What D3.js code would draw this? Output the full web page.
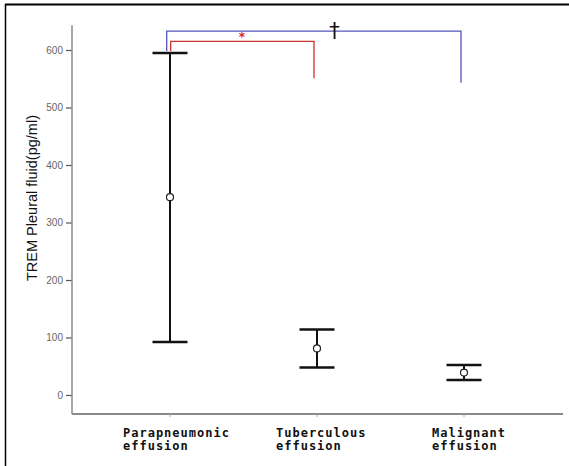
<!DOCTYPE html>
<html>
<head>
<meta charset="utf-8">
<script src="https://cdn.jsdelivr.net/npm/d3@7"></script>
<style>
  body { margin: 0; background: #fff; }
  svg { display: block; }
</style>
</head>
<body>
<div id="chart"></div>
<script>
// categories and values (mean with error range)
const categories = ["Parapneumonic\neffusion", "Tuberculous\neffusion", "Malignant\neffusion"];
const means = [344, 81, 39];
const lows = [92, 48, 26];
const highs = [595, 114, 52];
const yTicks = [0, 100, 200, 300, 400, 500, 600];

// significance brackets: from / to category index, top value, drop value, mark
const brackets = [
  { from: 0, to: 1, top: 615, drop: 551, color: "#cc3333", mark: "*" },
  { from: 0, to: 2, top: 633, drop: 543, color: "#5555bb", mark: "\u2020" }
];

const svg = d3.select("#chart")
  .append("svg")
  .attr("width", 569)
  .attr("height", 466);

// frame
svg.append("line").attr("x1", 5).attr("x2", 569).attr("y1", 4.5).attr("y2", 4.5)
  .attr("stroke", "#000").attr("stroke-width", 2);
svg.append("line").attr("x1", 5.5).attr("x2", 5.5).attr("y1", 4).attr("y2", 466)
  .attr("stroke", "#000").attr("stroke-width", 1.5);

const xScale = d3.scalePoint()
  .domain(categories)
  .range([170, 464]);

const yScale = d3.scaleLinear()
  .domain([0, 600])
  .range([395, 50]);

const axisColor = "#8a8a8a";

// y axis
const yAxis = svg.append("g")
  .attr("transform", "translate(72,0)")
  .call(d3.axisLeft(yScale).tickValues(yTicks).tickSize(6).tickSizeOuter(0));
yAxis.select(".domain").remove();
yAxis.selectAll(".tick line").attr("stroke", "#555").attr("stroke-width", 1.2);
yAxis.selectAll(".tick text")
  .attr("x", -9)
  .attr("fill", "#666")
  .style("font-family", "Liberation Sans, Arial, sans-serif")
  .style("font-size", "10px");

svg.append("line")
  .attr("x1", 72).attr("x2", 72)
  .attr("y1", yScale(-33)).attr("y2", yScale(643))
  .attr("stroke", axisColor).attr("stroke-width", 1.5);

// x axis
svg.append("line")
  .attr("x1", 72).attr("x2", 563)
  .attr("y1", yScale(-33)).attr("y2", yScale(-33))
  .attr("stroke", axisColor).attr("stroke-width", 2);

svg.append("g")
  .selectAll("line")
  .data(categories)
  .join("line")
  .attr("x1", d => xScale(d)).attr("x2", d => xScale(d))
  .attr("y1", yScale(-33)).attr("y2", yScale(-33) + 3)
  .attr("stroke", "#aaa").attr("stroke-width", 1);

const xLabels = svg.append("g")
  .selectAll("text")
  .data(categories)
  .join("text")
  .attr("x", d => xScale(d) - 47)
  .attr("y", 437)
  .style("font-family", "DejaVu Sans Mono, monospace")
  .style("font-weight", "bold")
  .style("font-size", "12px")
  .style("letter-spacing", "1px")
  .attr("fill", "#111");
xLabels.each(function(d) {
  const lines = d.split("\n");
  const t = d3.select(this);
  lines.forEach((ln, i) => {
    t.append("tspan").attr("x", xScale(d) - 47 + (d.startsWith("Tub") ? 6 : d.startsWith("Mal") ? 15 : 0))
      .attr("dy", i === 0 ? 0 : 13).text(ln);
  });
});

// y axis title
svg.append("text")
  .attr("transform", "translate(37,198) rotate(-90)")
  .attr("text-anchor", "middle")
  .style("font-family", "Liberation Sans, Arial, sans-serif")
  .style("font-size", "14.5px")
  .attr("fill", "#111")
  .text("TREM Pleural fluid(pg/ml)");

// error bars
const idx = d3.range(categories.length);
const bars = svg.append("g");
bars.selectAll("line.whisker")
  .data(idx)
  .join("line")
  .attr("class", "whisker")
  .attr("x1", i => xScale(categories[i])).attr("x2", i => xScale(categories[i]))
  .attr("y1", i => yScale(highs[i])).attr("y2", i => yScale(lows[i]))
  .attr("stroke", "#111").attr("stroke-width", 2);

bars.selectAll("line.capHi")
  .data(idx)
  .join("line")
  .attr("class", "capHi")
  .attr("x1", i => xScale(categories[i]) - 17.5).attr("x2", i => xScale(categories[i]) + 17.5)
  .attr("y1", i => yScale(highs[i])).attr("y2", i => yScale(highs[i]))
  .attr("stroke", "#111").attr("stroke-width", 2.5);

bars.selectAll("line.capLo")
  .data(idx)
  .join("line")
  .attr("class", "capLo")
  .attr("x1", i => xScale(categories[i]) - 17.5).attr("x2", i => xScale(categories[i]) + 17.5)
  .attr("y1", i => yScale(lows[i])).attr("y2", i => yScale(lows[i]))
  .attr("stroke", "#111").attr("stroke-width", 2.5);

bars.selectAll("circle")
  .data(idx)
  .join("circle")
  .attr("cx", i => xScale(categories[i]))
  .attr("cy", i => yScale(means[i]))
  .attr("r", 3.5)
  .attr("fill", "#fff")
  .attr("stroke", "#222")
  .attr("stroke-width", 1.2);

// brackets
brackets.forEach((b, k) => {
  const x1 = xScale(categories[b.from]) + (k === 0 ? 0.7 : -3.3);
  const x2 = xScale(categories[b.to]) - 3;
  svg.append("path")
    .attr("d", `M${x1},${yScale(highs[b.from]) - 2}V${yScale(b.top)}H${x2}V${yScale(b.drop)}`)
    .attr("fill", "none")
    .attr("stroke", b.color)
    .attr("stroke-width", 1.3);
});

// significance marks
svg.append("text")
  .attr("x", 242).attr("y", yScale(615) - 0.5)
  .attr("text-anchor", "middle")
  .attr("fill", "#dd2222")
  .style("font-family", "DejaVu Sans, sans-serif")
  .style("font-weight", "bold")
  .style("font-size", "12px")
  .text("*");

svg.append("text")
  .attr("x", 334.5).attr("y", 38)
  .attr("text-anchor", "middle")
  .attr("fill", "#111")
  .style("font-family", "DejaVu Sans, sans-serif")
  .style("font-size", "21px")
  .text("\u2020");
</script>
</body>
</html>
